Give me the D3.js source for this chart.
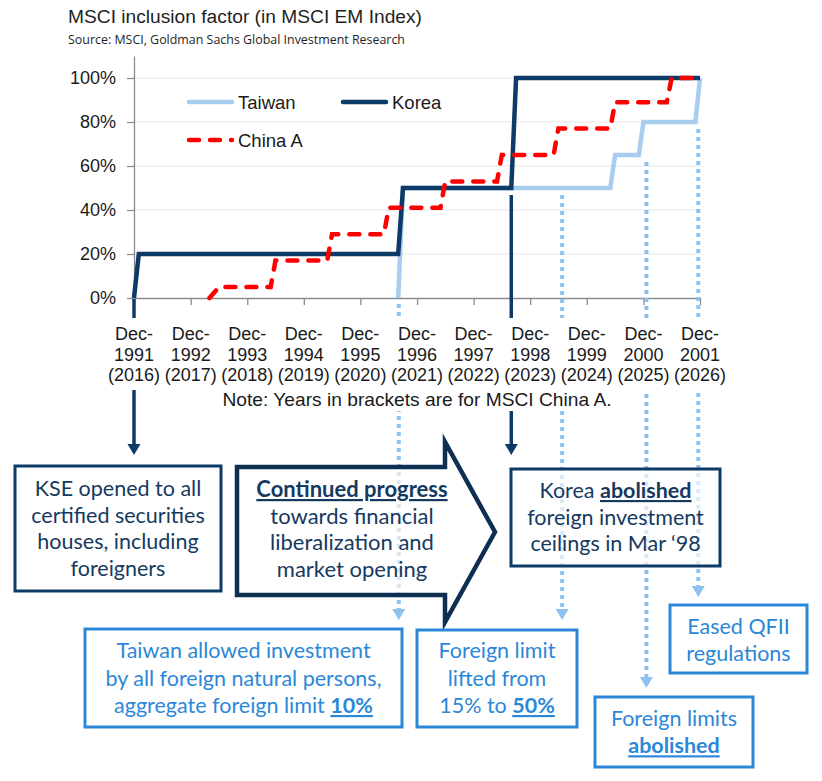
<!DOCTYPE html>
<html>
<head>
<meta charset="utf-8">
<script src="https://cdn.jsdelivr.net/npm/d3@7"></script>
<style>
  body { margin: 0; background: #fff; }
</style>
</head>
<body>
<div id="chart"></div>
<script>
// --- data ---
const tickYears = [1991, 1992, 1993, 1994, 1995, 1996, 1997, 1998, 1999, 2000, 2001];
const chinaYears = [2016, 2017, 2018, 2019, 2020, 2021, 2022, 2023, 2024, 2025, 2026];
const yTicks = [0, 20, 40, 60, 80, 100];

// inclusion factor (%) by month, step points
const taiwan = [
  ["1996-08", 0], ["1996-09", 50], ["2000-05", 50], ["2000-06", 65],
  ["2000-11", 65], ["2000-12", 80], ["2001-11", 80], ["2001-12", 100]
];
const korea = [
  ["1991-12", 0], ["1992-01", 20], ["1996-08", 20], ["1996-09", 50],
  ["1998-08", 50], ["1998-09", 100], ["2001-12", 100]
];
const chinaA = [
  ["1993-04", 0], ["1993-06", 5], ["1994-05", 5], ["1994-06", 17],
  ["1995-05", 17], ["1995-06", 29], ["1996-05", 29], ["1996-06", 41],
  ["1997-05", 41], ["1997-06", 53], ["1998-05", 53], ["1998-06", 65],
  ["1999-05", 65], ["1999-06", 77], ["2000-05", 77], ["2000-06", 89],
  ["2001-05", 89], ["2001-06", 100], ["2001-12", 100]
];

// events the call-outs point at: date and the level the pointer starts from
const eventDates = ["1991-12-01", "1996-08-05", "1998-08-01", "1999-06-25", "2000-12-20", "2001-11-20"];
const eventLevels = [0, 0, 50, 50, 65, 80];

// call-out texts (**...** = bold + underlined)
const boxTexts = [
  ["KSE opened to all", "certified securities", "houses, including", "foreigners"],
  ["Taiwan allowed investment", "by all foreign natural persons,", "aggregate foreign limit **10%**"],
  ["Korea **abolished**", "foreign investment", "ceilings in Mar \u201898"],
  ["Foreign limit", "lifted from", "15% to **50%**"],
  ["Foreign limits", "**abolished**"],
  ["Eased QFII", "regulations"]
];
const arrowText = ["**Continued progress**", "towards financial", "liberalization and", "market opening"];

// --- setup ---
const W = 822, H = 781;
const NAVY = "#0d3a66", NAVY_TXT = "#16395f", LBLUE = "#2b87d8", DOT = "#8fc1ee";
const TW = "#a7cdef", RED = "#ff0000";
const chartFont = "'Liberation Sans', Arial, sans-serif";
const boxFont = "Lato, 'Open Sans', sans-serif";

const svg = d3.select("#chart").append("svg")
  .attr("width", W).attr("height", H)
  .style("display", "block")
  .style("background", "#fff");

const parseM = d3.timeParse("%Y-%m");
const parseD = d3.timeParse("%Y-%m-%d");

const x = d3.scaleTime()
  .domain([parseM("1991-12"), parseM("2001-12")])
  .range([134, 700]);
const y = d3.scaleLinear().domain([0, 110]).range([298, 56]);

// title
svg.append("text").attr("x", 68).attr("y", 23)
  .attr("font-family", chartFont).attr("font-size", 18).attr("fill", "#1f1f1f")
  .attr("textLength", 354).attr("lengthAdjust", "spacingAndGlyphs")
  .text("MSCI inclusion factor (in MSCI EM Index)");
svg.append("text").attr("x", 68).attr("y", 44)
  .attr("font-family", "'Open Sans', sans-serif").attr("font-size", 12.5).attr("fill", "#1f1f1f")
  .attr("textLength", 337).attr("lengthAdjust", "spacingAndGlyphs")
  .text("Source: MSCI, Goldman Sachs Global Investment Research");

// gridlines
svg.append("g").selectAll("line")
  .data(yTicks.filter(d => d > 0))
  .join("line")
  .attr("x1", x.range()[0]).attr("x2", x.range()[1])
  .attr("y1", d => y(d)).attr("y2", d => y(d))
  .attr("stroke", "#e6e6e6").attr("stroke-width", 1.2);

// axes
const yAxis = svg.append("g").attr("transform", `translate(${x.range()[0]},0)`)
  .call(d3.axisLeft(y).tickValues(yTicks).tickFormat(d => d + "%").tickSize(7).tickSizeOuter(0).tickPadding(11));
yAxis.select(".domain").attr("stroke", "#8c8c8c").attr("stroke-width", 1.3);
yAxis.selectAll(".tick line").attr("stroke", "#8c8c8c").attr("stroke-width", 1.3);
yAxis.selectAll(".tick text").attr("font-family", chartFont).attr("font-size", 18).attr("fill", "#1a1a1a");

const xAxis = svg.append("g").attr("transform", `translate(0,${y(0)})`)
  .call(d3.axisBottom(x).tickValues(tickYears.map(yr => new Date(yr, 11, 1))).tickSize(7).tickSizeOuter(0).tickFormat(""));
xAxis.select(".domain").attr("stroke", "#8c8c8c").attr("stroke-width", 1.3);
xAxis.selectAll(".tick line").attr("stroke", "#8c8c8c").attr("stroke-width", 1.3);

// series
const toPts = arr => arr.map(d => ({ date: parseM(d[0]), v: d[1] }));
const line = d3.line().x(d => x(d.date)).y(d => y(d.v));

svg.append("path").datum(toPts(taiwan)).attr("d", line)
  .attr("fill", "none").attr("stroke", TW).attr("stroke-width", 4.5);
svg.append("path").datum(toPts(korea)).attr("d", line)
  .attr("fill", "none").attr("stroke", NAVY).attr("stroke-width", 4.5);
svg.append("path").datum(toPts(chinaA)).attr("d", line)
  .attr("fill", "none").attr("stroke", RED).attr("stroke-width", 4.5)
  .attr("stroke-dasharray", "10,11").attr("stroke-linecap", "round");

// legend
const legend = svg.append("g").attr("font-family", chartFont).attr("font-size", 18.5).attr("fill", "#1a1a1a");
const legendItems = [
  { name: "Taiwan", color: TW, x: 187, y: 102, dash: null },
  { name: "Korea", color: NAVY, x: 341, y: 102, dash: null },
  { name: "China A", color: RED, x: 187, y: 140, dash: "10,11" }
];
legendItems.forEach(it => {
  legend.append("line").attr("x1", it.x + 2).attr("x2", it.x + 45).attr("y1", it.y).attr("y2", it.y)
    .attr("stroke", it.color).attr("stroke-width", 4.5).attr("stroke-linecap", "round")
    .attr("stroke-dasharray", it.dash);
  legend.append("text").attr("x", it.x + 51).attr("y", it.y + 7).text(it.name);
});

// pointers from the events down to the call-outs
const tipY = [455, 620, 455, 620, 688, 597];
const pointerG = svg.append("g");
eventDates.forEach((ds, i) => {
  const px = x(parseD(ds));
  const solid = (i === 0 || i === 2);
  const y0 = i === 0 ? y(0) + 1 : (i === 1 ? y(0) + 6 : y(eventLevels[i]) + 7);
  const y1 = tipY[i] - 11;
  pointerG.append("line").attr("x1", px).attr("x2", px).attr("y1", y0).attr("y2", y1)
    .attr("stroke", solid ? NAVY : DOT)
    .attr("stroke-width", solid ? 3.5 : 4)
    .attr("stroke-dasharray", solid ? null : "4,4");
  pointerG.append("path")
    .attr("d", `M${px - 6.5},${y1} L${px + 6.5},${y1} L${px},${tipY[i]} Z`)
    .attr("fill", solid ? NAVY : DOT);
});

// white bands behind the axis labels and the note
svg.append("rect").attr("x", 95).attr("y", 318).attr("width", 640).attr("height", 72).attr("fill", "#fff");
svg.append("rect").attr("x", 220).attr("y", 390).attr("width", 396).attr("height", 21).attr("fill", "#fff");

// x tick labels
const xl = svg.append("g").attr("font-family", chartFont).attr("font-size", 18)
  .attr("fill", "#1a1a1a").attr("text-anchor", "middle");
tickYears.forEach((yr, i) => {
  const cx = x(new Date(yr, 11, 1));
  const t = xl.append("text").attr("x", cx);
  t.append("tspan").attr("x", cx).attr("y", 340).text("Dec-");
  t.append("tspan").attr("x", cx).attr("y", 361).text(yr);
  t.append("tspan").attr("x", cx).attr("y", 381).text("(" + chinaYears[i] + ")");
});
svg.append("text").attr("x", 417).attr("y", 406)
  .attr("font-family", chartFont).attr("font-size", 18.5).attr("fill", "#1a1a1a")
  .attr("text-anchor", "middle")
  .attr("textLength", 389).attr("lengthAdjust", "spacingAndGlyphs")
  .text("Note: Years in brackets are for MSCI China A.");

// helper to write a line with **bold underlined** pieces
function writeLine(g, str, cx, by, size, color) {
  const t = g.append("text").attr("x", cx).attr("y", by)
    .attr("text-anchor", "middle").attr("font-family", boxFont)
    .attr("font-size", size).attr("fill", color);
  str.split("**").forEach((part, k) => {
    if (!part) return;
    const s = t.append("tspan").text(part);
    if (k % 2 === 1) s.attr("font-weight", 700).style("text-decoration", "underline");
  });
}

// big arrow
const arrowPts = [[237, 467], [445, 467], [445, 442], [495, 532], [445, 622], [445, 595], [237, 595]];
svg.append("path").attr("d", "M" + arrowPts.join("L") + "Z")
  .attr("fill", "rgba(255,255,255,0.65)").attr("stroke", "#0f2f52")
  .attr("stroke-width", 4.5).attr("stroke-linejoin", "miter");
arrowText.forEach((s, i) => writeLine(svg, s, 352, 497 + i * 26.7, 22, NAVY_TXT));

// call-out boxes
const boxes = [
  { x: 15, y: 466, w: 206, h: 125, by: 496, lh: 26.7, c: NAVY, tc: NAVY_TXT },
  { x: 85, y: 629, w: 317, h: 98, by: 658, lh: 27.5, c: LBLUE, tc: LBLUE },
  { x: 511, y: 469, w: 209, h: 97, by: 498, lh: 26.7, c: NAVY, tc: NAVY_TXT },
  { x: 417, y: 630, w: 160, h: 97, by: 658, lh: 27.5, c: LBLUE, tc: LBLUE },
  { x: 595, y: 697, w: 158, h: 70, by: 726, lh: 27.3, c: LBLUE, tc: LBLUE },
  { x: 670, y: 605, w: 137, h: 68, by: 634, lh: 26.5, c: LBLUE, tc: LBLUE }
];
boxes.forEach((b, i) => {
  svg.append("rect").attr("x", b.x).attr("y", b.y).attr("width", b.w).attr("height", b.h)
    .attr("fill", "rgba(255,255,255,0.65)").attr("stroke", b.c).attr("stroke-width", 3);
  boxTexts[i].forEach((s, j) => writeLine(svg, s, b.x + b.w / 2, b.by + j * b.lh, 21.5, b.tc));
});
</script>
</body>
</html>
